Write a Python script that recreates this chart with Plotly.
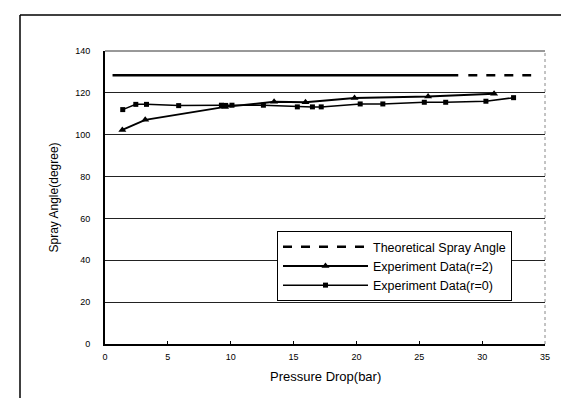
import plotly.graph_objects as go

# Data
theory_x_solid = [0.6, 28.1]
theory_x_dash = [28.9, 33.9]
theory_y = 128.4

r2_x = [1.38, 3.2, 9.55, 13.45, 15.95, 19.85, 25.7, 30.95]
r2_y = [102.3, 107.1, 113.3, 115.7, 115.5, 117.6, 118.2, 119.6]

r0_x = [1.41, 2.45, 3.3, 5.86, 9.26, 9.6, 10.1, 12.6, 15.3, 16.5, 17.2, 20.3, 22.1, 25.4, 27.1, 30.3, 32.5]
r0_y = [112.0, 114.5, 114.5, 113.9, 114.1, 114.0, 114.1, 114.1, 113.3, 113.3, 113.3, 114.7, 114.7, 115.5, 115.5, 116.0, 117.7]

x_ticks = [0, 5, 10, 15, 20, 25, 30, 35]
y_ticks = [0, 20, 40, 60, 80, 100, 120, 140]

FONT = "Liberation Sans, Arial, sans-serif"

fig = go.Figure()
fig.add_trace(go.Scatter(x=theory_x_solid, y=[theory_y] * len(theory_x_solid), mode="lines",
                         line=dict(color="black", width=2.5), showlegend=False, hoverinfo="skip"))
fig.add_trace(go.Scatter(x=theory_x_dash, y=[theory_y] * len(theory_x_dash), mode="lines",
                         line=dict(color="black", width=2.5, dash="dash"),
                         name="Theoretical Spray Angle"))
fig.add_trace(go.Scatter(x=r2_x, y=r2_y, mode="lines+markers",
                         line=dict(color="black", width=2),
                         marker=dict(symbol="triangle-up", size=7, color="black"),
                         name="Experiment Data(r=2)"))
fig.add_trace(go.Scatter(x=r0_x, y=r0_y, mode="lines+markers",
                         line=dict(color="black", width=1.5),
                         marker=dict(symbol="square", size=5, color="black"),
                         name="Experiment Data(r=0)"))

fig.update_layout(
    width=569, height=398,
    margin=dict(l=97, r=32, t=43, b=62),
    paper_bgcolor="white", plot_bgcolor="white",
    font=dict(family=FONT, color="black", size=9),
    showlegend=True,
    legend=dict(x=(269 - 97) / 440, y=(336 - 223) / 293, xanchor="left", yanchor="top",
                bgcolor="white", bordercolor="black", borderwidth=1,
                font=dict(size=12.5, family=FONT), itemwidth=85,
                tracegroupgap=0, traceorder="normal"),
    xaxis=dict(range=[0, 35], tickvals=x_ticks, showgrid=False, zeroline=False,
               showline=True, linecolor="black", linewidth=2, mirror=False,
               ticks="inside", ticklen=3, tickcolor="black",
               ticklabelstandoff=3, tickfont=dict(size=9)),
    yaxis=dict(range=[0, 140], tickvals=y_ticks, showgrid=True, gridcolor="#222222",
               gridwidth=1, zeroline=False, showline=True, linecolor="black", linewidth=2,
               ticks="", ticklabelstandoff=11, tickfont=dict(size=9)),
    annotations=[
        dict(text="Pressure Drop(bar)", xref="paper", yref="paper", x=0.5, y=(336 - 369) / 293,
             showarrow=False, font=dict(size=13, family=FONT), xanchor="center", yanchor="middle"),
        dict(text="Spray Angle(degree)", xref="paper", yref="paper", x=(45 - 97) / 440, y=0.5,
             showarrow=False, textangle=-90, font=dict(size=12, family=FONT),
             xanchor="center", yanchor="middle"),
    ],
    shapes=[
        # top border of plot
        dict(type="line", xref="paper", yref="paper", x0=0, x1=1, y0=1, y1=1,
             line=dict(color="#333333", width=1)),
        # right border of plot (dotted gray)
        dict(type="line", xref="paper", yref="paper", x0=1, x1=1, y0=0, y1=1,
             line=dict(color="#888888", width=1, dash="dot")),
        # outer frame
        dict(type="line", xref="paper", yref="paper", x0=(12 - 97) / 440, x1=(569 - 97) / 440,
             y0=(336 - 7) / 293, y1=(336 - 7) / 293, line=dict(color="black", width=1.5)),
        dict(type="line", xref="paper", yref="paper", x0=(12 - 97) / 440, x1=(12 - 97) / 440,
             y0=(336 - 7) / 293, y1=(336 - 398) / 293, line=dict(color="black", width=1.5)),
    ],
)

fig.write_html("out.html")
